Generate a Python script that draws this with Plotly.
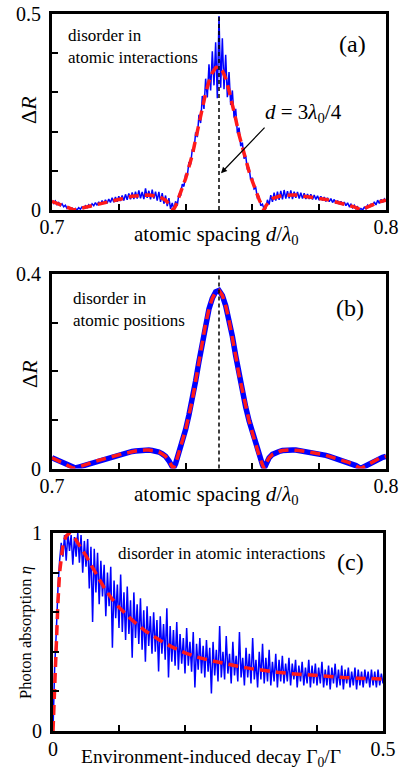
import numpy as np
import plotly.graph_objects as go

# ------------------------------------------------------------------ data
# panels (a) and (b): reflectivity contrast vs atomic spacing d/lambda0
d_mean = [0.700, 0.701, 0.702, 0.703, 0.704, 0.705, 0.706, 0.7065, 0.707, 0.708, 0.709,
          0.710, 0.711, 0.712, 0.713, 0.714, 0.715, 0.716, 0.717, 0.718, 0.719,
          0.720, 0.721, 0.722, 0.723, 0.724, 0.725, 0.726, 0.727, 0.728, 0.729,
          0.730, 0.731, 0.732, 0.733, 0.734, 0.735, 0.736, 0.7363, 0.737, 0.738, 0.739,
          0.740, 0.741, 0.742, 0.743, 0.744, 0.745, 0.746, 0.747, 0.748, 0.749,
          0.750, 0.751, 0.752, 0.753, 0.754, 0.755, 0.756, 0.757, 0.758, 0.759,
          0.760, 0.761, 0.762, 0.763, 0.7635, 0.764, 0.765, 0.766, 0.767, 0.768, 0.769,
          0.770, 0.771, 0.772, 0.773, 0.774, 0.775, 0.776, 0.777, 0.778, 0.779,
          0.780, 0.781, 0.782, 0.783, 0.784, 0.785, 0.786, 0.787, 0.788, 0.789,
          0.790, 0.791, 0.792, 0.7925, 0.793, 0.794, 0.795, 0.796, 0.797, 0.798, 0.799, 0.800]
dR_mean = [0.022, 0.019, 0.016, 0.012, 0.009, 0.005, 0.002, 0.000, 0.001, 0.003, 0.005,
           0.008, 0.010, 0.013, 0.015, 0.017, 0.019, 0.021, 0.023, 0.025, 0.027,
           0.028, 0.030, 0.032, 0.033, 0.035, 0.036, 0.037, 0.038, 0.038, 0.038,
           0.037, 0.036, 0.034, 0.030, 0.025, 0.016, 0.004, 0.000, 0.010, 0.032, 0.056,
           0.080, 0.110, 0.140, 0.180, 0.220, 0.260, 0.298, 0.328, 0.350, 0.363,
           0.366, 0.356, 0.335, 0.305, 0.272, 0.232, 0.192, 0.158, 0.126, 0.098,
           0.073, 0.049, 0.027, 0.008, 0.000, 0.010, 0.022, 0.029, 0.033, 0.035, 0.037,
           0.038, 0.038, 0.038, 0.038, 0.037, 0.036, 0.035, 0.034, 0.033, 0.032,
           0.030, 0.029, 0.027, 0.025, 0.023, 0.021, 0.019, 0.017, 0.015, 0.012,
           0.009, 0.006, 0.002, 0.000, 0.002, 0.006, 0.010, 0.014, 0.018, 0.021, 0.023, 0.025]

# (a) single realisation with disorder in atomic interactions (sampled every 0.0005)
d_grid = np.round(np.linspace(0.70, 0.80, 201), 4)
dR_interactions = [
    0.024, 0.017, 0.023, 0.014, 0.019, 0.011, 0.016, 0.008, 0.012, 0.004,
    0.008, 0.001, 0.005, 0.001, 0.004, 0.000, 0.006, 0.002, 0.008, 0.004,
    0.011, 0.006, 0.013, 0.008, 0.016, 0.011, 0.019, 0.012, 0.021, 0.014,
    0.024, 0.016, 0.026, 0.017, 0.028, 0.019, 0.031, 0.020, 0.033, 0.021,
    0.035, 0.023, 0.037, 0.024, 0.040, 0.026, 0.042, 0.027, 0.045, 0.028,
    0.047, 0.029, 0.050, 0.030, 0.046, 0.028, 0.055, 0.031, 0.049, 0.027,
    0.052, 0.029, 0.047, 0.024, 0.046, 0.021, 0.043, 0.016, 0.037, 0.010,
    0.030, 0.003, 0.018, 0.002, 0.022, 0.011, 0.041, 0.036, 0.066, 0.060,
    0.091, 0.087, 0.122, 0.116, 0.155, 0.149, 0.198, 0.186, 0.243, 0.222,
    0.291, 0.258, 0.335, 0.287, 0.372, 0.305, 0.405, 0.318, 0.428, 0.285,
    0.495, 0.312, 0.438, 0.308, 0.396, 0.288, 0.352, 0.268, 0.305, 0.236,
    0.258, 0.196, 0.210, 0.163, 0.172, 0.131, 0.138, 0.103, 0.108, 0.077,
    0.082, 0.054, 0.057, 0.031, 0.034, 0.011, 0.015, 0.002, 0.004, 0.026,
    0.014, 0.038, 0.021, 0.044, 0.024, 0.047, 0.026, 0.049, 0.027, 0.051,
    0.029, 0.048, 0.030, 0.050, 0.028, 0.047, 0.031, 0.046, 0.029, 0.044,
    0.029, 0.043, 0.028, 0.041, 0.028, 0.040, 0.027, 0.038, 0.027, 0.036,
    0.025, 0.035, 0.024, 0.033, 0.022, 0.031, 0.021, 0.029, 0.019, 0.027,
    0.017, 0.024, 0.015, 0.022, 0.013, 0.020, 0.011, 0.018, 0.009, 0.015,
    0.006, 0.012, 0.003, 0.008, 0.000, 0.004, 0.000, 0.007, 0.003, 0.012,
    0.006, 0.016, 0.010, 0.021, 0.013, 0.025, 0.017, 0.027, 0.019, 0.028,
    0.022]

# (c) photon absorption vs environment-induced decay Gamma0/Gamma
g_mean = [0.0, 0.0025, 0.005, 0.0075, 0.01, 0.0125, 0.015, 0.02, 0.025, 0.03, 0.035,
          0.04, 0.05, 0.06, 0.07, 0.08, 0.09, 0.10, 0.12, 0.14, 0.16, 0.18, 0.20,
          0.22, 0.24, 0.26, 0.28, 0.30, 0.32, 0.34, 0.36, 0.38, 0.40, 0.42, 0.44,
          0.46, 0.48, 0.50]
eta_mean = [0.0, 0.25, 0.45, 0.65, 0.80, 0.89, 0.94, 0.985, 1.0, 0.99, 0.965,
            0.94, 0.885, 0.825, 0.765, 0.71, 0.665, 0.625, 0.56, 0.505, 0.462, 0.425, 0.395,
            0.372, 0.355, 0.34, 0.327, 0.315, 0.305, 0.297, 0.29, 0.284, 0.278, 0.274, 0.27,
            0.267, 0.265, 0.263]

g_grid = np.round(np.linspace(0.0, 0.5, 201), 4)
eta_interactions = [
    0.00, 0.32, 0.50, 0.72, 0.86, 0.95, 0.88, 0.99, 0.86, 1.00,
    0.91, 0.99, 0.84, 0.98, 0.88, 1.00, 0.85, 0.99, 0.80, 0.96,
    0.83, 0.97, 0.72, 0.93, 0.55, 0.92, 0.70, 0.90, 0.64, 0.86,
    0.68, 0.84, 0.58, 0.80, 0.63, 0.83, 0.42, 0.76, 0.57, 0.74,
    0.52, 0.79, 0.50, 0.70, 0.46, 0.73, 0.49, 0.66, 0.37, 0.70,
    0.47, 0.64, 0.44, 0.67, 0.41, 0.61, 0.35, 0.63, 0.43, 0.58,
    0.39, 0.60, 0.40, 0.56, 0.30, 0.58, 0.39, 0.54, 0.36, 0.62,
    0.27, 0.53, 0.35, 0.51, 0.33, 0.55, 0.31, 0.49, 0.34, 0.47,
    0.29, 0.52, 0.33, 0.45, 0.30, 0.50, 0.22, 0.44, 0.31, 0.47,
    0.29, 0.43, 0.27, 0.46, 0.30, 0.42, 0.19, 0.45, 0.28, 0.41,
    0.25, 0.53, 0.27, 0.40, 0.26, 0.48, 0.29, 0.39, 0.24, 0.45,
    0.28, 0.38, 0.25, 0.50, 0.27, 0.37, 0.23, 0.42, 0.27, 0.39,
    0.24, 0.47, 0.26, 0.36, 0.22, 0.40, 0.26, 0.44, 0.24, 0.37,
    0.25, 0.41, 0.23, 0.35, 0.25, 0.39, 0.22, 0.36, 0.25, 0.38,
    0.24, 0.34, 0.25, 0.37, 0.23, 0.34, 0.26, 0.36, 0.22, 0.33,
    0.25, 0.35, 0.23, 0.32, 0.24, 0.36, 0.22, 0.33, 0.24, 0.34,
    0.23, 0.32, 0.24, 0.35, 0.22, 0.31, 0.23, 0.33, 0.21, 0.32,
    0.24, 0.34, 0.22, 0.31, 0.23, 0.33, 0.21, 0.31, 0.24, 0.32,
    0.22, 0.30, 0.23, 0.32, 0.21, 0.31, 0.23, 0.30, 0.22, 0.31,
    0.24, 0.30, 0.22, 0.31, 0.23, 0.30, 0.22, 0.31, 0.23, 0.29,
    0.24]

# labelled ticks and unlabelled (minor) ticks
d_ticks = [0.70, 0.80]
d_ticktext = ["0.7", "0.8"]
d_minor = [0.72, 0.74, 0.76, 0.78]
dRa_ticks = [0.0, 0.5]
dRa_ticktext = ["0", "0.5"]
dRa_minor = [0.1, 0.2, 0.3, 0.4]
dRb_ticks = [0.0, 0.4]
dRb_ticktext = ["0", "0.4"]
dRb_minor = [0.1, 0.2, 0.3]
g_ticks = [0.0, 0.5]
g_ticktext = ["0", "0.5"]
g_minor = [0.1, 0.2, 0.3, 0.4]
eta_ticks = [0.0, 1.0]
eta_ticktext = ["0", "1"]
eta_minor = [0.2, 0.4, 0.6, 0.8]
d_marker = 0.75

# ------------------------------------------------------------------ style
W, H = 409, 778
SERIF = "Liberation Serif"
BLUE = "#0000ff"
RED = "#ff1a1a"


def px(x):
    return x / W


def py(y):
    return 1 - y / H


def axis(domain, anchor, rng, tickvals, ticktext, minor_vals, standoff):
    return dict(domain=domain, anchor=anchor, range=rng, automargin=False,
                tickmode="array", tickvals=tickvals, ticktext=ticktext,
                showline=True, linecolor="black", linewidth=3, mirror=True,
                ticks="inside", ticklen=6, tickwidth=2, tickcolor="black",
                minor=dict(tickmode="array", tickvals=minor_vals, ticks="inside",
                           ticklen=6, tickwidth=2, tickcolor="black", showgrid=False),
                showgrid=False, zeroline=False, fixedrange=True,
                ticklabelstandoff=standoff,
                tickfont=dict(family=SERIF, size=20, color="black"))


fig = go.Figure()

# (a)
fig.add_trace(go.Scatter(x=d_grid, y=dR_interactions, mode="lines",
                         line=dict(color=BLUE, width=1.5, simplify=False),
                         xaxis="x", yaxis="y", hoverinfo="skip"))
fig.add_trace(go.Scatter(x=d_mean, y=dR_mean, mode="lines",
                         line=dict(color=RED, width=3.5, dash="10px,6px"),
                         xaxis="x", yaxis="y", hoverinfo="skip"))
# (b)
fig.add_trace(go.Scatter(x=d_mean, y=dR_mean, mode="lines",
                         line=dict(color=BLUE, width=5.5),
                         xaxis="x2", yaxis="y2", hoverinfo="skip"))
fig.add_trace(go.Scatter(x=d_mean, y=dR_mean, mode="lines",
                         line=dict(color=RED, width=3.5, dash="10px,6px"),
                         xaxis="x2", yaxis="y2", hoverinfo="skip"))
# (c)
fig.add_trace(go.Scatter(x=g_grid, y=eta_interactions, mode="lines",
                         line=dict(color=BLUE, width=1.5, simplify=False),
                         xaxis="x3", yaxis="y3", hoverinfo="skip"))
fig.add_trace(go.Scatter(x=g_mean, y=eta_mean, mode="lines",
                         line=dict(color=RED, width=3.5, dash="10px,6px"),
                         xaxis="x3", yaxis="y3", hoverinfo="skip"))

fig.update_layout(
    width=W, height=H, margin=dict(l=0, r=0, t=0, b=0, pad=0),
    paper_bgcolor="white", plot_bgcolor="white", showlegend=False,
    xaxis=axis([px(52), px(386)], "y", [0.70, 0.80], d_ticks, d_ticktext, d_minor, -3),
    yaxis=axis([py(210), py(14)], "x", [0, 0.5], dRa_ticks, dRa_ticktext, dRa_minor, 4),
    xaxis2=axis([px(52), px(386)], "y2", [0.70, 0.80], d_ticks, d_ticktext, d_minor, -3),
    yaxis2=axis([py(468.5), py(274)], "x2", [0, 0.4], dRb_ticks, dRb_ticktext, dRb_minor, 4),
    xaxis3=axis([px(53), px(383)], "y3", [0, 0.5], g_ticks, g_ticktext, g_minor, -2),
    yaxis3=axis([py(731), py(533)], "x3", [0, 1], eta_ticks, eta_ticktext, eta_minor, 4),
)

dash_line = dict(color="black", width=1.5, dash="4px,3px")
fig.add_shape(type="line", xref="x", yref="y domain", x0=d_marker, x1=d_marker,
              y0=0, y1=1, line=dash_line, layer="above")
fig.add_shape(type="line", xref="x2", yref="y2 domain", x0=d_marker, x1=d_marker,
              y0=0, y1=1, line=dash_line, layer="above")


def text(t, x, y, size, xanchor="center", angle=0, align="center"):
    fig.add_annotation(text=t, x=px(x), y=py(y), xref="paper", yref="paper",
                       xanchor=xanchor, yanchor="middle", showarrow=False,
                       textangle=angle, align=align,
                       font=dict(family=SERIF, size=size, color="black"))


# panel (a) texts
text("disorder in<br>atomic interactions", 66, 46, 17, xanchor="left", align="left")
text("(a)", 352, 44, 24)
text("<i>d</i> = 3<i>λ</i><sub>0</sub>/4", 303, 113, 21)
text("Δ<i>R</i>", 29, 110, 22, angle=-90)
text("atomic spacing <i>d</i>/<i>λ</i><sub>0</sub>", 216, 235, 21)
fig.add_annotation(text="", x=0.7506, y=0.094, xref="x", yref="y", ax=45, ay=-47,
                   showarrow=True, arrowhead=2, arrowsize=1, arrowwidth=1.2,
                   arrowcolor="black")

# panel (b) texts
text("disorder in<br>atomic positions", 71, 309, 17, xanchor="left", align="left")
text("(b)", 350, 308, 24)
text("Δ<i>R</i>", 29, 374, 22, angle=-90)
text("atomic spacing <i>d</i>/<i>λ</i><sub>0</sub>", 216, 495, 21)

# panel (c) texts
text("disorder in atomic interactions", 116, 553, 17, xanchor="left", align="left")
text("(c)", 350, 562, 24)
text("Photon absorption <i>η</i>", 25, 633, 16.5, angle=-90)
text("Environment-induced decay Γ<sub>0</sub>/Γ", 211, 758, 19.5)

fig.write_html("out.html", config={"displayModeBar": False, "staticPlot": True},
               post_script="document.body.style.margin='0';document.body.style.padding='0';")
